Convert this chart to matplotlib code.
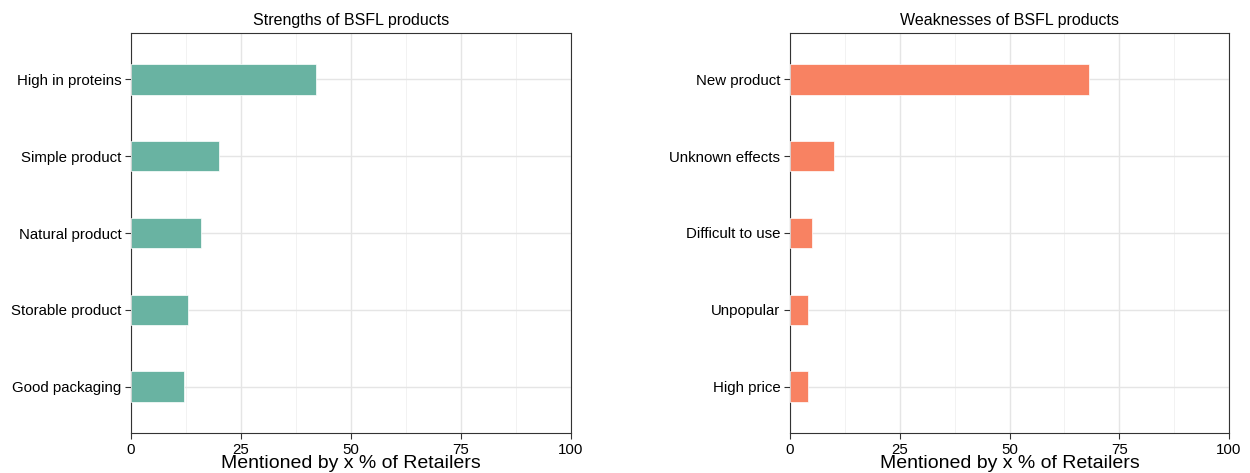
import matplotlib
matplotlib.use("Agg")
import matplotlib.pyplot as plt
from matplotlib.ticker import MultipleLocator

plt.rcParams['font.family'] = ['Liberation Sans', 'DejaVu Sans']

strength_labels = ["High in proteins", "Simple product", "Natural product", "Storable product", "Good packaging"]
strength_values = [42, 20, 16, 13, 12]
weakness_labels = ["New product", "Unknown effects", "Difficult to use", "Unpopular", "High price"]
weakness_values = [68, 10, 5, 4, 4]
xticks = [0, 25, 50, 75, 100]

fig = plt.figure(figsize=(12.5, 4.73), dpi=100)
ax1 = fig.add_axes([131/1250, 40/473, 440/1250, 400/473])
ax2 = fig.add_axes([790/1250, 40/473, 439/1250, 400/473])

def panel(ax, labels, values, color, title):
    n = len(labels)
    ypos = list(range(n, 0, -1))
    ax.set_axisbelow(True)
    ax.barh(ypos, values, height=0.4, color=color, edgecolor='white', linewidth=0.5, zorder=3)
    ax.set_xlim(0, 100)
    ax.set_ylim(0.4, n + 0.6)
    ax.set_yticks(ypos)
    ax.set_yticklabels(labels, fontsize=10.8, color='black')
    ax.set_xticks(xticks)
    ax.set_xticklabels([str(t) for t in xticks], fontsize=10.8, color='black')
    ax.xaxis.set_minor_locator(MultipleLocator(12.5))
    ax.grid(which='major', color='#e5e5e5', linewidth=1.0)
    ax.grid(which='minor', axis='x', color='#f0f0f0', linewidth=0.6)
    ax.tick_params(which='minor', length=0)
    ax.tick_params(which='major', length=4, color='#333333', width=0.8, pad=3)
    for s in ax.spines.values():
        s.set_color('#333333')
        s.set_linewidth(0.8)
    ax.set_title(title, fontsize=11.5, pad=6)
    ax.set_xlabel("Mentioned by x % of Retailers", fontsize=14, labelpad=-1)

panel(ax1, strength_labels, strength_values, '#69b3a2', "Strengths of BSFL products")
panel(ax2, weakness_labels, weakness_values, '#f88262', "Weaknesses of BSFL products")

fig.savefig("out.png", dpi=100)
